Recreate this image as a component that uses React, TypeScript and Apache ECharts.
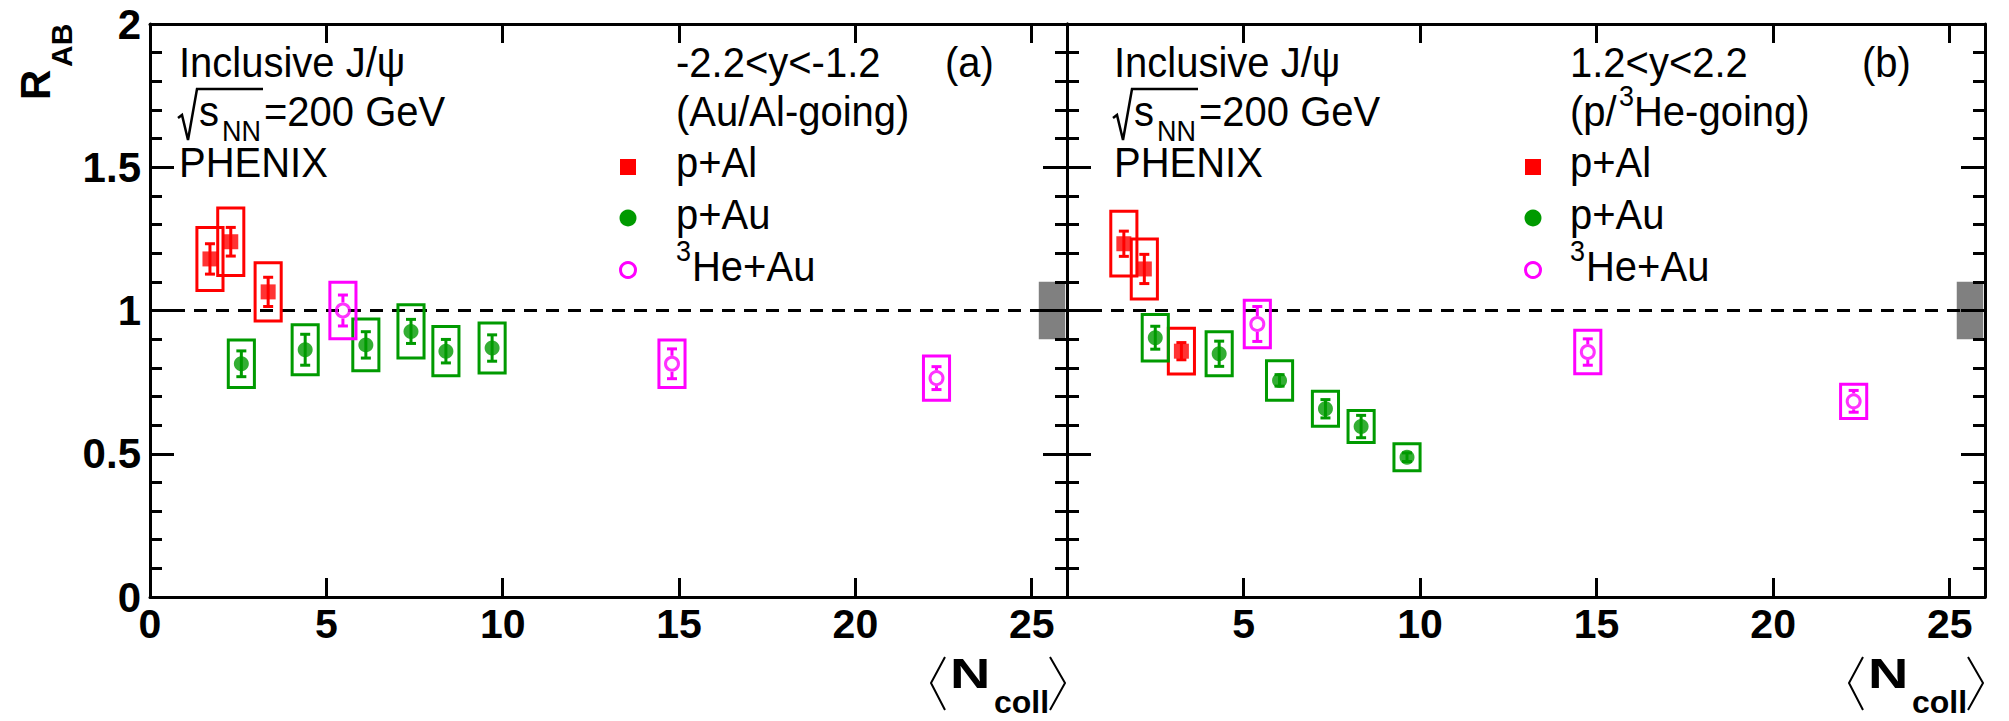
import React, { useEffect, useRef } from 'react';
import * as echarts from 'echarts';

// ---------------- data ----------------
// Panel (a): -2.2<y<-1.2 (Au/Al-going)
const aPAlNcoll = [1.70, 2.29, 3.35];
const aPAlRab = [1.18, 1.24, 1.065];
const aPAlStat = [0.053, 0.05, 0.051];
const aPAlSys = [0.11, 0.118, 0.102];

const aPAuNcoll = [2.59, 4.40, 6.12, 7.40, 8.39, 9.70];
const aPAuRab = [0.814, 0.863, 0.880, 0.927, 0.858, 0.869];
const aPAuStat = [0.045, 0.054, 0.046, 0.042, 0.041, 0.046];
const aPAuSys = [0.083, 0.087, 0.09, 0.093, 0.086, 0.087];

const aHeAuNcoll = [5.47, 14.8, 22.3];
const aHeAuRab = [1.0, 0.814, 0.764];
const aHeAuStat = [0.054, 0.052, 0.04];
const aHeAuSys = [0.099, 0.083, 0.077];

// Panel (b): 1.2<y<2.2 (p/3He-going)
const bPAlNcoll = [1.61, 2.19, 3.24];
const bPAlRab = [1.233, 1.145, 0.858];
const bPAlStat = [0.044, 0.051, 0.03];
const bPAlSys = [0.113, 0.105, 0.08];

const bPAuNcoll = [2.50, 4.31, 6.02, 7.32, 8.33, 9.63];
const bPAuRab = [0.905, 0.849, 0.756, 0.657, 0.595, 0.488];
const bPAuStat = [0.04, 0.044, 0.02, 0.032, 0.039, 0.015];
const bPAuSys = [0.081, 0.077, 0.069, 0.061, 0.056, 0.047];

const bHeAuNcoll = [5.39, 14.75, 22.28];
const bHeAuRab = [0.953, 0.855, 0.683];
const bHeAuStat = [0.061, 0.046, 0.038];
const bHeAuSys = [0.083, 0.076, 0.06];

// global normalisation uncertainty box and reference line
const globalBoxX = [25.2, 25.95];
const globalBoxY = [0.9, 1.1];
const refLineX = [0, 26];
const refLineY = 1;

const xMin = 0, xMax = 26, xInterval = 5;
const yMin = 0, yMax = 2, yInterval = 0.5;

const RED = '#ff0000';
const GREEN = '#009a00';
const MAGENTA = '#ff00ff';
const FONT = '"Liberation Sans", Arial, Helvetica, sans-serif';

const BOX_HW = 0.37;

const zip = (...arrs: number[][]) => arrs[0].map((_, i) => arrs.map((a) => a[i]));

function boxRender(color: string) {
  return (params: any, api: any) => {
    const x = api.value(0), y = api.value(1), s = api.value(2);
    const p1 = api.coord([x - BOX_HW, y + s]);
    const p2 = api.coord([x + BOX_HW, y - s]);
    return {
      type: 'rect',
      shape: { x: p1[0], y: p1[1], width: p2[0] - p1[0], height: p2[1] - p1[1] },
      style: { fill: 'none', stroke: color, lineWidth: 3 },
    };
  };
}

function errRender(color: string, gap: number) {
  return (params: any, api: any) => {
    const x = api.value(0), y = api.value(1), e = api.value(2);
    const c = api.coord([x, y]);
    const t = api.coord([x, y + e]);
    const b = api.coord([x, y - e]);
    const ln = (x1: number, y1: number, x2: number, y2: number) => ({
      type: 'line',
      shape: { x1, y1, x2, y2 },
      style: { stroke: color, lineWidth: 3 },
    });
    const children: any[] = [];
    if (gap > 0) {
      if (t[1] < c[1] - gap) children.push(ln(c[0], t[1], c[0], c[1] - gap));
      if (b[1] > c[1] + gap) children.push(ln(c[0], c[1] + gap, c[0], b[1]));
    } else {
      children.push(ln(c[0], t[1], c[0], b[1]));
    }
    const cap = 5;
    children.push(ln(c[0] - cap, t[1], c[0] + cap, t[1]));
    children.push(ln(c[0] - cap, b[1], c[0] + cap, b[1]));
    return { type: 'group', children };
  };
}

function panelSeries(xi: number, yi: number, pAl: number[][], pAu: number[][], heAu: number[][]) {
  const ax = { xAxisIndex: xi, yAxisIndex: yi };
  const groups = [
    { d: pAl, color: RED, symbol: 'rect', open: false },
    { d: pAu, color: GREEN, symbol: 'circle', open: false },
    { d: heAu, color: MAGENTA, symbol: 'circle', open: true },
  ];
  const s: any[] = [
    {
      type: 'custom',
      ...ax,
      z: 1,
      silent: true,
      data: [[globalBoxX[0], globalBoxX[1], globalBoxY[0], globalBoxY[1]]],
      renderItem: (params: any, api: any) => {
        const p1 = api.coord([api.value(0), api.value(3)]);
        const p2 = api.coord([api.value(1), api.value(2)]);
        return {
          type: 'rect',
          shape: { x: p1[0], y: p1[1], width: p2[0] - p1[0], height: p2[1] - p1[1] },
          style: { fill: '#808080' },
        };
      },
    },
    {
      type: 'line',
      ...ax,
      z: 2,
      silent: true,
      symbol: 'none',
      data: [[refLineX[0], refLineY], [refLineX[1], refLineY]],
      lineStyle: { color: '#000', width: 3, type: [13, 9] },
    },
  ];
  groups.forEach((g) => {
    s.push({
      type: 'custom',
      ...ax,
      z: 3,
      silent: true,
      data: g.d.map((r) => [r[0], r[1], r[3]]),
      renderItem: boxRender(g.color),
    });
    s.push({
      type: 'custom',
      ...ax,
      z: 4,
      silent: true,
      data: g.d.map((r) => [r[0], r[1], r[2]]),
      renderItem: errRender(g.color, g.open ? 8 : 0),
    });
    s.push({
      type: 'scatter',
      ...ax,
      z: 5,
      silent: true,
      symbol: g.symbol,
      symbolSize: g.open ? 13 : 15,
      data: g.d.map((r) => [r[0], r[1]]),
      itemStyle: g.open
        ? { color: 'transparent', borderColor: g.color, borderWidth: 3 }
        : { color: g.color },
    });
  });
  return s;
}

function xAxes(grid: number, hideZero: boolean) {
  const common = {
    gridIndex: grid,
    type: 'value',
    min: xMin,
    max: xMax,
    interval: xInterval,
    z: 10,
    axisLine: { show: true, onZero: false, lineStyle: { color: '#000', width: 3 } },
    axisTick: { show: true, inside: true, length: 19, lineStyle: { color: '#000', width: 3 } },
    splitLine: { show: false },
  };
  return [
    {
      ...common,
      position: 'bottom',
      axisLabel: {
        show: true,
        margin: 6,
        fontSize: 41,
        fontWeight: 'bold',
        fontFamily: FONT,
        color: '#000',
        formatter: (v: number) => (v % 5 !== 0 || (hideZero && v === 0) ? '' : String(v)),
      },
    },
    { ...common, position: 'top', axisLabel: { show: false } },
  ];
}

function yAxes(grid: number, labelLeft: boolean) {
  const common = {
    gridIndex: grid,
    type: 'value',
    min: yMin,
    max: yMax,
    interval: yInterval,
    z: 10,
    axisLine: { show: true, onZero: false, lineStyle: { color: '#000', width: 3 } },
    axisTick: { show: true, inside: true, length: 24, lineStyle: { color: '#000', width: 3 } },
    minorTick: { show: true, splitNumber: 5, length: 12, lineStyle: { color: '#000', width: 3 } },
    splitLine: { show: false },
    minorSplitLine: { show: false },
  };
  return [
    {
      ...common,
      position: 'left',
      axisLabel: labelLeft
        ? {
            show: true,
            margin: 9,
            fontSize: 42,
            fontWeight: 'bold',
            fontFamily: FONT,
            color: '#000',
            formatter: (v: number) => String(v),
          }
        : { show: false },
    },
    { ...common, position: 'right', axisLabel: { show: false } },
  ];
}

const TS = 0.93; // horizontal squeeze of ROOT-like text

function txt(x: number, baseline: number, text: string, size: number, bold = false, sx = TS) {
  return {
    type: 'text',
    x,
    y: baseline - 0.35 * size,
    scaleX: sx,
    z: 20,
    style: {
      text,
      fontSize: size,
      fontFamily: FONT,
      fontWeight: bold ? 'bold' : 'normal',
      fill: '#000',
      align: 'left',
      verticalAlign: 'middle',
      textAlign: 'left',
      textVerticalAlign: 'middle',
    },
  };
}

function poly(points: number[][], width = 2.5) {
  return {
    type: 'polyline',
    z: 20,
    shape: { points },
    style: { stroke: '#000', lineWidth: width, fill: 'none' },
  };
}

function panelTexts(leftX: number, rightX: number, labelX: number, legX: number, tag: string, rap: string, going: string[]) {
  const F = 43;
  const els: any[] = [
    txt(leftX, 77, 'Inclusive J/\u03c8', F),
    poly([[leftX - 1, 118], [leftX + 3, 115], [leftX + 9, 140], [leftX + 18, 89], [leftX + 84, 89]], 2.5),
    txt(leftX + 20, 126, 's', F),
    txt(leftX + 43, 141, 'NN', 29),
    txt(leftX + 85, 126, '=200 GeV', F),
    txt(leftX, 177, 'PHENIX', F),
    txt(rightX, 77, rap, F),
    txt(labelX, 77, tag, F),
  ];
  if (going.length === 1) {
    els.push(txt(rightX, 126, going[0], F));
  } else {
    els.push(txt(rightX, 126, going[0], F));
    els.push(txt(rightX + 49, 106, going[1], 29));
    els.push(txt(rightX + 64, 126, going[2], F));
  }
  // legend
  els.push({ type: 'rect', z: 20, shape: { x: legX - 8, y: 159, width: 16, height: 16 }, style: { fill: RED } });
  els.push(txt(rightX, 177, 'p+Al', F));
  els.push({ type: 'circle', z: 20, shape: { cx: legX, cy: 218, r: 8.5 }, style: { fill: GREEN } });
  els.push(txt(rightX, 229, 'p+Au', F));
  els.push({ type: 'circle', z: 20, shape: { cx: legX, cy: 270, r: 7.5 }, style: { fill: 'none', stroke: MAGENTA, lineWidth: 3 } });
  els.push(txt(rightX, 261, '3', 29));
  els.push(txt(rightX + 16, 281, 'He+Au', F));
  return els;
}

function ncollLabel(right: number) {
  // right = x of the closing bracket's tip
  return [
    poly([[right - 120, 657], [right - 134, 683], [right - 120, 710]], 2),
    txt(right - 115, 688, 'N', 43, true, 1.3),
    txt(right - 71, 713, 'coll', 32, true, 1.0),
    poly([[right - 15, 657], [right, 683], [right - 15, 710]], 2),
  ];
}

export default function App() {
  const ref = useRef<HTMLDivElement>(null);
  useEffect(() => {
    if (!ref.current) return;
    const chart = echarts.init(ref.current, undefined, { renderer: 'svg' });

    const aPAl = zip(aPAlNcoll, aPAlRab, aPAlStat, aPAlSys);
    const aPAu = zip(aPAuNcoll, aPAuRab, aPAuStat, aPAuSys);
    const aHeAu = zip(aHeAuNcoll, aHeAuRab, aHeAuStat, aHeAuSys);
    const bPAl = zip(bPAlNcoll, bPAlRab, bPAlStat, bPAlSys);
    const bPAu = zip(bPAuNcoll, bPAuRab, bPAuStat, bPAuSys);
    const bHeAu = zip(bHeAuNcoll, bHeAuRab, bHeAuStat, bHeAuSys);

    const option: any = {
      animation: false,
      backgroundColor: '#ffffff',
      grid: [
        { left: 150, top: 24, width: 917, height: 573 },
        { left: 1067, top: 24, width: 918, height: 573 },
      ],
      xAxis: [...xAxes(0, false), ...xAxes(1, true)],
      yAxis: [...yAxes(0, true), ...yAxes(1, false)],
      series: [
        ...panelSeries(0, 0, aPAl, aPAu, aHeAu),
        ...panelSeries(2, 2, bPAl, bPAu, bHeAu),
      ],
      graphic: [
        // R_AB
        {
          type: 'group',
          x: 50,
          y: 100,
          rotation: Math.PI / 2,
          z: 20,
          children: [
            {
              type: 'text',
              x: 0,
              y: -15,
              style: { text: 'R', fontSize: 42, fontWeight: 'bold', fontFamily: FONT, fill: '#000', align: 'left', verticalAlign: 'middle' },
            },
            {
              type: 'text',
              x: 33,
              y: 11,
              style: { text: 'AB', fontSize: 30, fontWeight: 'bold', fontFamily: FONT, fill: '#000', align: 'left', verticalAlign: 'middle' },
            },
          ],
        },
        ...panelTexts(179, 676, 945, 628, '(a)', '-2.2<y<-1.2', ['(Au/Al-going)']),
        ...panelTexts(1114, 1570, 1862, 1533, '(b)', '1.2<y<2.2', ['(p/', '3', 'He-going)']),
        ...ncollLabel(1065),
        ...ncollLabel(1983),
      ],
    };
    chart.setOption(option);
    return () => chart.dispose();
  }, []);
  return (
    <div
      ref={ref}
      style={{ position: 'absolute', left: 0, top: 0, width: 2009, height: 721, background: '#fff' }}
    />
  );
}
